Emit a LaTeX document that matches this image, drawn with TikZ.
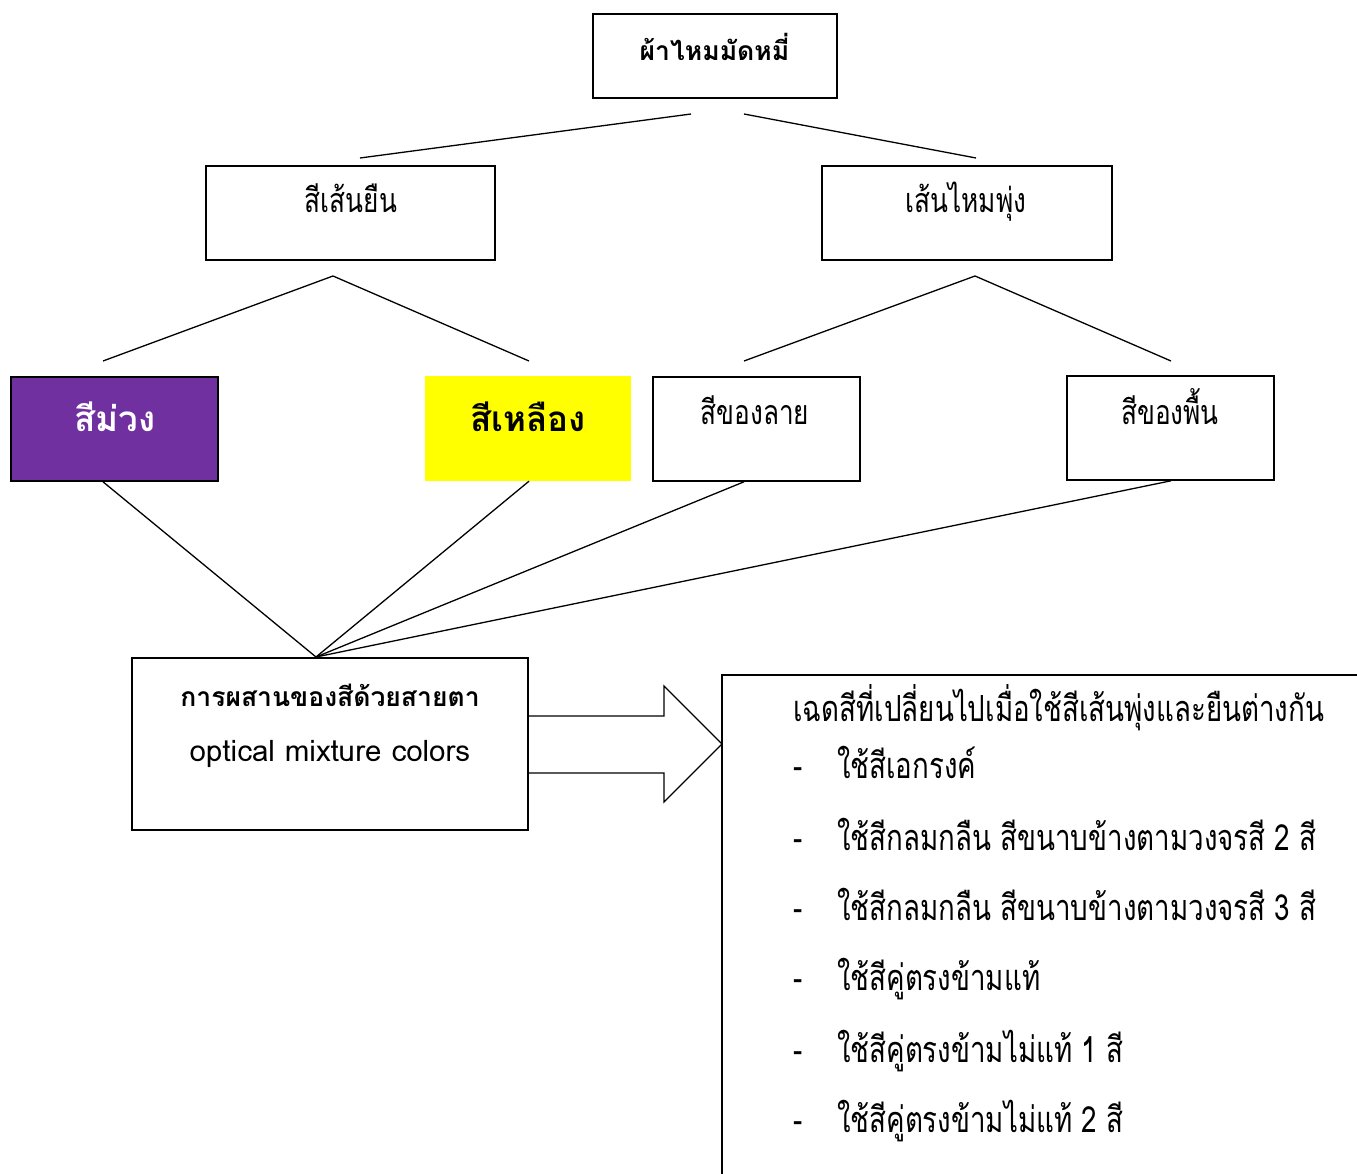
\documentclass[tikz,border=0pt]{standalone}
\usepackage{fontspec}
\newfontfamily\thaifont[Script=Thai]{Loma}
\newfontfamily\thaicond[Script=Thai,FakeStretch=0.77]{Loma}
\definecolor{purp}{HTML}{7030A0}
\definecolor{yel}{HTML}{FFFF00}
\begin{document}
\begin{tikzpicture}[x=1pt,y=-1pt,
  box/.style={draw, line width=1.6pt, rectangle, inner sep=0pt},
  conn/.style={line width=1.3pt},
  lab/.style={font=\thaicond\fontsize{34}{40}\selectfont, inner sep=0pt, anchor=base},
  itm/.style={font=\thaicond\fontsize{36}{40}\selectfont, inner sep=0pt, anchor=base west},
  blab/.style={font=\thaifont\bfseries\fontsize{26.5}{30}\selectfont, inner sep=0pt, anchor=base},
  big/.style={font=\thaifont\bfseries\fontsize{35}{40}\selectfont, inner sep=0pt, anchor=base},
]
\useasboundingbox[fill=white] (0,0) rectangle (1357,1174);

% boxes
\node[box, minimum width=244pt, minimum height=84pt] (top) at (715,56) {};
\node[box, minimum width=289pt, minimum height=94pt] (warp) at (350.5,213) {};
\node[box, minimum width=290pt, minimum height=94pt] (weft) at (967,213) {};
\node[box, fill=purp, minimum width=207pt, minimum height=104pt] (purple) at (114.5,429) {};
\node[rectangle, fill=yel, inner sep=0pt, minimum width=206pt, minimum height=105pt] (yellow) at (528,428.5) {};
\node[box, minimum width=207pt, minimum height=104pt] (pat) at (756.5,429) {};
\node[box, minimum width=207pt, minimum height=104pt] (ground) at (1170.5,428) {};
\node[box, minimum width=396pt, minimum height=172pt] (mix) at (330,744) {};

% texts
\node[blab] (topt) at (714.5,61) {ผ้าไหมมัดหมี่};
\node[lab] (warpt) at (351,213) {สีเส้นยืน};
\node[lab] (weftt) at (966,213) {เส้นไหมพุ่ง};
\node[big, text=white] (purplet) at (115,431) {สีม่วง};
\node[big] (yellowt) at (528,431) {สีเหลือง};
\node[lab] (patt) at (755,424) {สีของลาย};
\node[lab] (groundt) at (1170,424) {สีของพื้น};
\node[blab] (mixt) at (330,706) {การผสานของสีด้วยสายตา};
\node[font=\thaifont\fontsize{29.5}{34}\selectfont, inner sep=0pt, anchor=base] (mixe) at (330,761) {optical mixture colors};

% connectors
\coordinate (t1) at (691,114); \coordinate (t2) at (744,114);
\coordinate (w1) at (360,158); \coordinate (f1) at (976,158);
\draw[conn] (t1) -- (w1);
\draw[conn] (t2) -- (f1);
\coordinate (wa) at (333,276); \coordinate (fa) at (975,276);
\coordinate (pu) at (103,361); \coordinate (ye) at (529,361);
\coordinate (pa) at (744,361); \coordinate (gr) at (1171,361);
\draw[conn] (pu) -- (wa) -- (ye);
\draw[conn] (pa) -- (fa) -- (gr);
\coordinate (m) at (316,657);
\draw[conn] (purple.south -| pu) -- (m);
\draw[conn] (yellow.south -| ye) -- (m);
\draw[conn] (pat.south -| pa) -- (m);
\draw[conn] (ground.south -| gr) -- (m);

% block arrow
\draw[line width=1.3pt] (mix.east |- 0,716) -- (664,716) -- (664,686) -- (722,744) -- (664,802) -- (664,773) -- (mix.east |- 0,773);

% right box
\coordinate (rb) at (722,675);
\draw[line width=1.6pt] (1357,675) -- (rb) -- (722,1174);
\node[itm] (head) at (793,721) {เฉดสีที่เปลี่ยนไปเมื่อใช้สีเส้นพุ่งและยืนต่างกัน};
\node[itm] (i1) at (793,778) {\makebox[44pt][l]{-}ใช้สีเอกรงค์};
\node[itm] (i2) at (793,850) {\makebox[44pt][l]{-}ใช้สีกลมกลืน สีขนาบข้างตามวงจรสี 2 สี};
\node[itm] (i3) at (793,920) {\makebox[44pt][l]{-}ใช้สีกลมกลืน สีขนาบข้างตามวงจรสี 3 สี};
\node[itm] (i4) at (793,990) {\makebox[44pt][l]{-}ใช้สีคู่ตรงข้ามแท้};
\node[itm] (i5) at (793,1062) {\makebox[44pt][l]{-}ใช้สีคู่ตรงข้ามไม่แท้ 1 สี};
\node[itm] (i6) at (793,1132) {\makebox[44pt][l]{-}ใช้สีคู่ตรงข้ามไม่แท้ 2 สี};
\end{tikzpicture}
\end{document}
